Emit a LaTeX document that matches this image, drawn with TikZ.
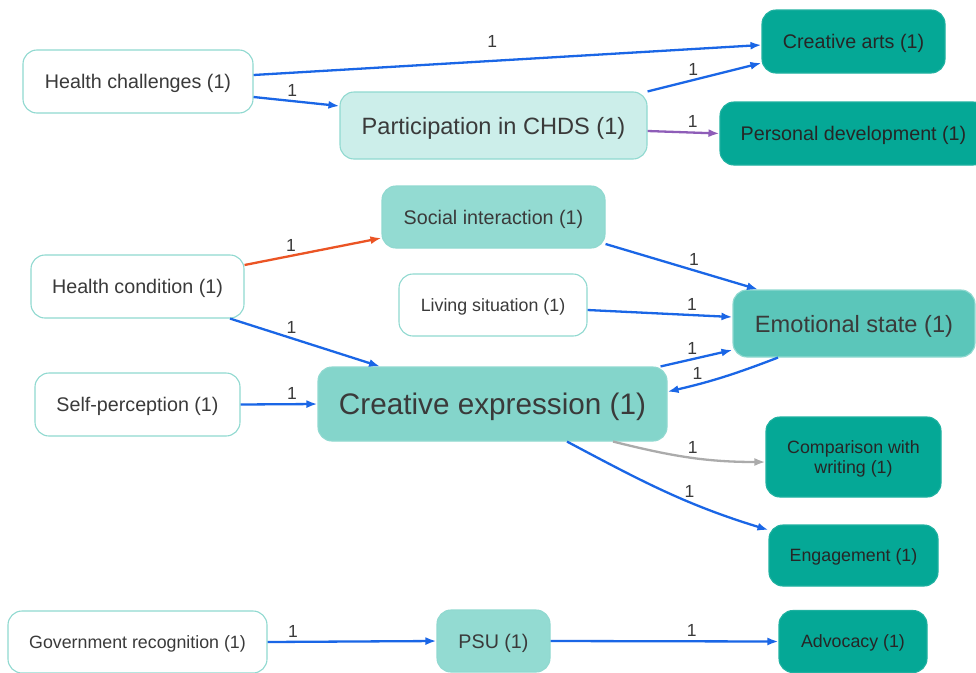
\documentclass[tikz,border=0pt]{standalone}
\usepackage{fontspec}
\setmainfont{Liberation Sans}
\usetikzlibrary{arrows.meta}
\definecolor{edgeblue}{HTML}{1A66E6}
\definecolor{edgered}{HTML}{EB5424}
\definecolor{edgepurple}{HTML}{8E5DB8}
\definecolor{edgegray}{HTML}{ABABAB}
\definecolor{rimteal}{HTML}{90D9D0}
\definecolor{palefill}{HTML}{CCEEEA}
\definecolor{midfill}{HTML}{93DBD2}
\definecolor{exprfill}{HTML}{84D5CB}
\definecolor{emofill}{HTML}{5BC6BA}
\definecolor{darkfill}{HTML}{05A896}
\definecolor{txtgray}{HTML}{3A3A3A}
\begin{document}
\begin{tikzpicture}[x=1pt, y=-1pt, >={Latex[length=11pt,width=8pt]}]
\tikzstyle{box}=[shape=rectangle, rounded corners=14pt, draw=rimteal, line width=1.1pt, inner sep=0pt, text depth=0pt, text=txtgray, align=center, font=\fontsize{19.7}{24}\selectfont]
\tikzstyle{plain}=[box, fill=white]
\tikzstyle{pale}=[box, fill=palefill]
\tikzstyle{mid}=[box, fill=midfill]
\tikzstyle{dark}=[box, fill=darkfill, draw=darkfill!90!white, text=black!85]
\tikzstyle{small}=[font=\fontsize{17.8}{20.5}\selectfont]
\tikzstyle{wire}=[->, draw=edgeblue, line width=2.3pt]
\tikzstyle{lbl}=[above=2.5pt, inner sep=1pt, text=txtgray, font=\fontsize{17.5}{17.5}\selectfont]
\fill[white] (0,0) rectangle (976,672);
\useasboundingbox (0,0) rectangle (976,672);
\node[plain, minimum width=230pt, minimum height=63pt] (HC) at (138, 81.5) {Health challenges (1)};
\node[pale, minimum width=307pt, minimum height=67pt, font=\fontsize{23.6}{28}\selectfont] (PC) at (493.5, 125.5) {Participation in CHDS (1)};
\node[dark, minimum width=183pt, minimum height=63pt] (CA) at (853.5, 41.5) {Creative arts (1)};
\node[dark, minimum width=267pt, minimum height=63pt] (PD) at (853.5, 133.5) {Personal development (1)};
\node[mid, minimum width=223pt, minimum height=62pt] (SI) at (493.5, 217) {Social interaction (1)};
\node[plain, minimum width=213pt, minimum height=63pt] (HCo) at (137.5, 286.5) {Health condition (1)};
\node[plain, small, minimum width=188pt, minimum height=62pt] (LS) at (493, 305) {Living situation (1)};
\node[box, fill=emofill, minimum width=242pt, minimum height=67pt, font=\fontsize{23.6}{28}\selectfont] (ES) at (854, 323.5) {Emotional state (1)};
\node[plain, minimum width=205pt, minimum height=63pt] (SP) at (137.5, 404.5) {Self-perception (1)};
\node[box, fill=exprfill, minimum width=349pt, minimum height=74pt, font=\fontsize{29.7}{34}\selectfont] (CE) at (492.5, 404) {Creative expression (1)};
\node[dark, small, minimum width=175pt, minimum height=80pt] (CW) at (853.5, 457) {Comparison with\\writing (1)};
\node[dark, small, minimum width=169pt, minimum height=61pt] (EN) at (853.5, 555.5) {Engagement (1)};
\node[plain, small, minimum width=259pt, minimum height=62pt] (GR) at (137.5, 642) {Government recognition (1)};
\node[mid, minimum width=113pt, minimum height=62pt] (PSU) at (493.5, 641) {PSU (1)};
\node[dark, small, minimum width=148pt, minimum height=62pt] (AD) at (853, 641.5) {Advocacy (1)};
\draw [wire] ([yshift=6.5pt]HC.east) to node[lbl, pos=0.47, above=9pt] {1} ([yshift=-3.5pt]CA.west);
\draw [wire] ([yshift=-15.5pt]HC.east) to node[lbl, pos=0.45] {1} ([yshift=19.5pt]PC.west);
\draw [wire] (PC.north east) to node[lbl, pos=0.4] {1} ([yshift=-21.5pt]CA.west);
\draw [wire, draw=edgepurple] ([yshift=-5.5pt]PC.east) to node[lbl, pos=0.63] {1} (PD.west);
\draw [wire, draw=edgered] ([yshift=21.5pt]HCo.east) to node[lbl, pos=0.34] {1} ([yshift=-21pt]SI.west);
\draw [wire] ([xshift=92.5pt]HCo.south) to node[lbl, pos=0.41] {1} ([xshift=-112.5pt]CE.north);
\draw [wire] ([yshift=-27pt]SI.east) to node[lbl, pos=0.58] {1} ([xshift=-96pt]ES.north);
\draw [wire] ([yshift=-5pt]LS.east) to node[lbl, pos=0.72] {1} ([yshift=6.5pt]ES.west);
\draw [wire] ([xshift=-7pt]CE.north east) to node[lbl, pos=0.44] {1} ([yshift=-26.5pt]ES.west);
\draw [wire] ([xshift=-76pt]ES.south) to[out=201, in=13] node[lbl, pos=0.75] {1} ([yshift=12.3pt]CE.east);
\draw [wire] (SP.east) to node[lbl, pos=0.67] {1} (CE.west);
\draw [wire, draw=edgegray] ([xshift=120.5pt]CE.south) to[out=-14, in=180] node[lbl, pos=0.53] {1} ([yshift=-5pt]CW.west);
\draw [wire] ([xshift=74.5pt]CE.south) to[out=-28, in=163] node[lbl, pos=0.63] {1} ([yshift=25.5pt]EN.west);
\draw [wire] (GR.east) to node[lbl, pos=0.15] {1} (PSU.west);
\draw [wire] (PSU.east) to node[lbl, pos=0.62] {1} (AD.west);
\end{tikzpicture}
\end{document}
